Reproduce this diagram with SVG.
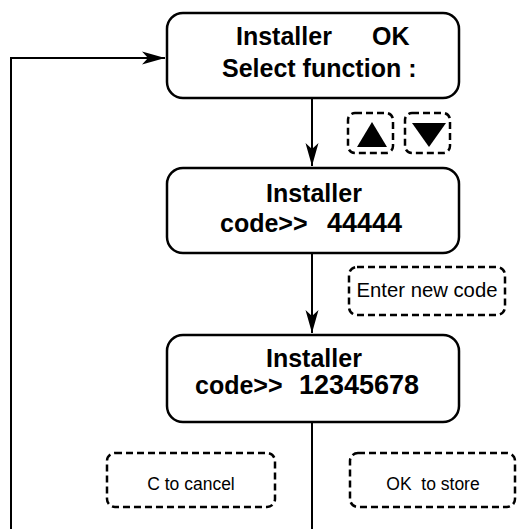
<svg xmlns="http://www.w3.org/2000/svg" width="517" height="529" viewBox="0 0 517 529">
<style>
.box{fill:#fff;stroke:#000;stroke-width:2.5}
.dash{fill:none;stroke:#000;stroke-width:2.5;stroke-dasharray:7 4}
.big{font-family:"Liberation Sans",Arial,sans-serif;font-weight:bold;font-size:25px;fill:#000}
.num{font-size:27px}
.small{font-family:"Liberation Sans",Arial,sans-serif;font-size:17.5px;fill:#000}
.line{fill:none;stroke:#000;stroke-width:2}
</style>
<defs>
<marker id="ah" markerUnits="userSpaceOnUse" markerWidth="24" markerHeight="14" viewBox="-23 -7 24 14" refX="0" refY="0" orient="auto">
<path d="M0,0 L-23,-6.5 L-17,0 L-23,6.5 Z" fill="#000"/>
</marker>
</defs>
<rect width="517" height="529" fill="#fff"/>
<g id="connectors">
<path class="line" d="M11,529 V58 H165" marker-end="url(#ah)"/>
<path class="line" d="M312,98 V166" marker-end="url(#ah)"/>
<path class="line" d="M312,253 V333" marker-end="url(#ah)"/>
<path class="line" d="M312,422 V529"/>
</g>
<g id="node-select">
<rect class="box" x="167" y="13" width="292" height="85" rx="16"/>
<text class="big" x="236" y="45">Installer</text>
<text class="big" x="372" y="45">OK</text>
<text class="big" x="222" y="77">Select function :</text>
</g>
<g id="node-code1">
<rect class="box" x="167" y="168" width="292" height="85" rx="16"/>
<text class="big" x="266" y="202">Installer</text>
<text class="big" x="220" y="232">code&gt;&gt;</text>
<text class="big num" x="327" y="232">44444</text>
</g>
<g id="node-code2">
<rect class="box" x="167" y="335" width="292" height="87" rx="16"/>
<text class="big" x="266" y="367">Installer</text>
<text class="big" x="195" y="394">code&gt;&gt;</text>
<text class="big num" x="299" y="394">12345678</text>
</g>
<g id="keys-updown">
<rect class="dash" x="348" y="113" width="45" height="40" rx="7"/>
<polygon points="357,147 372,122 387,147" fill="#000"/>
<rect class="dash" x="405" y="113" width="45" height="40" rx="7"/>
<polygon points="412,123 446,123 429,147" fill="#000"/>
</g>
<g id="note-enter">
<rect class="dash" x="349" y="267" width="156" height="48" rx="8"/>
<text class="small" x="427" y="297" text-anchor="middle" style="font-size:20.3px">Enter new code</text>
</g>
<g id="note-cancel">
<rect class="dash" x="107" y="453" width="168" height="54" rx="8"/>
<text class="small" x="191" y="490" text-anchor="middle">C to cancel</text>
</g>
<g id="note-store">
<rect class="dash" x="350" y="453" width="165" height="54" rx="8"/>
<text class="small" x="433" y="490" text-anchor="middle" xml:space="preserve">OK  to store</text>
</g>
</svg>
